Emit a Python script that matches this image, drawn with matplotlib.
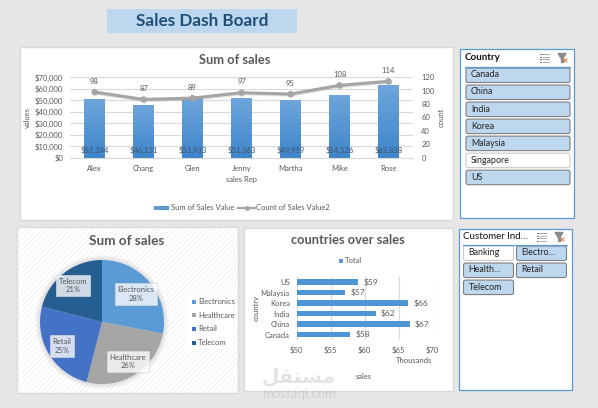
import numpy as np
import matplotlib
matplotlib.use("Agg")
import matplotlib.pyplot as plt
from matplotlib.patches import Rectangle, FancyBboxPatch, Circle
from matplotlib.ticker import FuncFormatter
import matplotlib.patheffects as pe

reps = ["Alex", "Chang", "Glen", "Jenny", "Martha", "Mike", "Rose"]
rep_sales = [51244, 46131, 51933, 51663, 49919, 54526, 62838]
rep_counts = [98, 87, 89, 97, 95, 108, 114]
industries = ["Electronics", "Healthcare", "Retail", "Telecom"]
industry_share = [28, 26, 25, 21]
industry_colors = ["#5B9BD5", "#A5A5A5", "#4472C4", "#255E91"]
countries = ["Canada", "China", "India", "Korea", "Malaysia", "US"]
country_sales = [57.8, 66.6, 61.6, 66.4, 57.1, 59.0]
country_labels = ["$58", "$67", "$62", "$66", "$57", "$59"]
slicer_countries = ["Canada", "China", "India", "Korea", "Malaysia", "Singapore", "US"]
country_selected = [True, True, True, True, True, False, True]
slicer_industries = ["Banking", "Electro…", "Health…", "Retail", "Telecom"]
industry_selected = [False, True, True, True, True]

W, H = 598, 408
plt.rcParams["font.family"] = ["Lato", "DejaVu Sans"]
TXT = "#595959"
fig = plt.figure(figsize=(W / 100, H / 100), dpi=100, facecolor="#E6E6E6")


def axpx(x0, y0, x1, y1, **kw):
    return fig.add_axes([x0 / W, 1 - y1 / H, (x1 - x0) / W, (y1 - y0) / H], **kw)


def layer(z):
    a = axpx(0, 0, W, H)
    a.set_xlim(0, W)
    a.set_ylim(H, 0)
    a.axis("off")
    a.patch.set_alpha(0)
    a.set_zorder(z)
    return a


bg = layer(0)
top = layer(5)


def rect(x0, y0, x1, y1, fc="white", ec="none", lw=1, **kw):
    bg.add_patch(Rectangle((x0, y0), x1 - x0, y1 - y0, fc=fc, ec=ec, lw=lw, **kw))


# title banner and panels
rect(107, 9, 297, 33, fc="#BDD7EE")
bg.text(202, 21.5, "Sales Dash Board", ha="center", va="center", fontsize=12.3,
        fontweight="bold", color="#1F4E79")
rect(20, 47, 453, 220, ec="#D9D9D9")
rect(17, 227, 238, 393, ec="#D9D9D9")
plt.rcParams["hatch.linewidth"] = 0.4
rect(17, 227, 238, 393, fc="none", ec="#EAEAEA", lw=0, hatch="//////")
rect(244, 228, 453, 391, ec="#D9D9D9")
rect(460, 49, 574, 218, ec="#5B9BD5", lw=0.9)
rect(458.5, 228.5, 571.5, 390, ec="#5B9BD5", lw=0.9)

# top combo chart
ax = axpx(70, 77.3, 413, 157.7)
ax.patch.set_alpha(0)
ax.set_zorder(1)
x = np.arange(len(reps))
ax.bar(x, rep_sales, width=0.41, color="#5B9BD5", zorder=2)
grad = np.linspace(0, 1, 64).reshape(-1, 1)
cmap = matplotlib.colors.LinearSegmentedColormap.from_list("b", ["#3E86CB", "#6EA5DB"])
for xi, v in zip(x, rep_sales):
    ax.imshow(grad, extent=(xi - 0.205, xi + 0.205, 0, v), origin="lower", cmap=cmap,
              aspect="auto", zorder=2.1)
ax.set_xlim(-0.5, 6.5)
ax.set_ylim(0, 70000)
ax.set_axisbelow(True)
ax.grid(axis="y", color="#D9D9D9", lw=0.8)
ax.set_yticks(np.arange(0, 70001, 10000))
ax.yaxis.set_major_formatter(FuncFormatter(lambda v, p: f"${v:,.0f}"))
ax.set_xticks(x, reps)
ax.tick_params(length=0, labelsize=5.5, labelcolor=TXT, pad=5)
ax.tick_params(axis="x", pad=5)
for s in ax.spines.values():
    s.set_visible(False)
ax.spines["bottom"].set_visible(True)
ax.spines["bottom"].set_color("#D9D9D9")
ax.set_xlabel("sales Rep", fontsize=5.5, color=TXT, labelpad=3)
ax.set_ylabel("values", fontsize=5.5, color=TXT, labelpad=3)
for xi, v in zip(x, rep_sales):
    ax.text(xi, 6500, f"${v:,}", ha="center", va="center", fontsize=5.5, color="#44546A", zorder=6)
ax2 = ax.twinx()
ax2.patch.set_alpha(0)
ax2.set_zorder(2)
ax2.set_ylim(0, 120)
ax2.set_yticks(np.arange(0, 121, 20))
ax2.plot(x, rep_counts, color="#A5A5A5", lw=2.2, marker="o", ms=3.5, zorder=5,
         path_effects=[pe.SimpleLineShadow(offset=(0.5, -0.8), shadow_color="#999999", alpha=0.3),
                       pe.Normal()])
ax2.tick_params(length=0, labelsize=5.5, labelcolor=TXT, pad=6)
for s in ax2.spines.values():
    s.set_visible(False)
ax2.set_ylabel("count", fontsize=5.5, color=TXT, labelpad=2)
for xi, v in zip(x, rep_counts):
    ax2.annotate(str(v), (xi, v), xytext=(0, 6), textcoords="offset points", ha="center",
                 fontsize=5.5, color=TXT)
bg.text(235, 60, "Sum of sales", ha="center", va="center", fontsize=9.3,
        fontweight="bold", color=TXT)
rect(154, 205.5, 169, 210, fc="#5B9BD5")
bg.text(171, 207.8, "Sum of Sales Value", fontsize=5.5, color=TXT, va="center")
bg.plot([238, 255], [207.8, 207.8], color="#A5A5A5", lw=1.6)
bg.plot([246.5], [207.8], color="#A5A5A5", marker="o", ms=2.5)
bg.text(256, 207.8, "Count of Sales Value2", fontsize=5.5, color=TXT, va="center")

# pie chart
for r, a in zip((67, 65.5, 64), (0.05, 0.07, 0.09)):
    bg.add_patch(Circle((102, 322), r, fc="#808080", ec="none", alpha=a))
ax3 = axpx(102 - 66, 322 - 66, 102 + 66, 322 + 66)
ax3.patch.set_alpha(0)
ax3.set_zorder(1)
ax3.pie(industry_share, colors=industry_colors, startangle=90, counterclock=False, radius=62,
        center=(0, 0), frame=False, wedgeprops=dict(edgecolor="none"))
ax3.set_xlim(-66, 66)
ax3.set_ylim(-66, 66)
ax3.axis("off")
pie_lab = [(136, 294), (128, 361.5), (62, 346), (73.3, 285.5)]
for (lx, ly), n, p in zip(pie_lab, industries, industry_share):
    top.text(lx, ly, f"{n}\n{p}%", ha="center", va="center", fontsize=5.5, color=TXT,
             linespacing=1.3,
             bbox=dict(boxstyle="square,pad=0.35", fc="white", ec="#D9D9D9", lw=0.6, alpha=0.78))
bg.text(127, 241, "Sum of sales", ha="center", va="center", fontsize=9.8,
        fontweight="bold", color=TXT)
rect(187, 295, 233, 349, fc="white")
for i, (n, c) in enumerate(zip(industries, industry_colors)):
    yy = 301.5 + i * 13.7
    rect(192, yy - 2, 196, yy + 2, fc=c)
    bg.text(198, yy, n, fontsize=5.5, color=TXT, va="center")

# horizontal bars
ax4 = axpx(296.7, 276.7, 432.7, 340)
ax4.patch.set_alpha(0)
ax4.set_zorder(1)
yy = np.arange(len(countries))
ax4.barh(yy, country_sales, height=0.52, color="#4F95D6", zorder=3,
         path_effects=[pe.SimpleLineShadow(offset=(0.6, -0.8), shadow_color="#808080", alpha=0.45),
                       pe.Normal()])
ax4.set_xlim(50, 70)
ax4.set_ylim(-0.5, 5.5)
ax4.set_xticks([50, 55, 60, 65, 70], ["$50", "$55", "$60", "$65", "$70"])
ax4.set_yticks(yy, countries)
ax4.grid(axis="x", color="#D9D9D9", lw=0.8)
ax4.set_axisbelow(True)
ax4.tick_params(length=0, labelsize=5.5, labelcolor=TXT)
ax4.tick_params(axis="y", pad=5)
ax4.tick_params(axis="x", pad=4.5)
for s in ax4.spines.values():
    s.set_visible(False)
for yi, v, l in zip(yy, country_sales, country_labels):
    ax4.annotate(l, (v, yi), xytext=(4, 0), textcoords="offset points", va="center",
                 fontsize=6, color=TXT)
ax4.set_ylabel("country", fontsize=5.5, color=TXT, labelpad=1)
bg.text(348, 240, "countries over sales", ha="center", va="center", fontsize=9.3,
        fontweight="bold", color=TXT)
rect(339, 259, 343, 263, fc="#5B9BD5")
bg.text(345, 260.5, "Total", fontsize=5.5, color=TXT, va="center")
bg.text(414, 360.5, "Thousands", ha="center", va="center", fontsize=5.5, color=TXT)
bg.text(364, 376.5, "sales", ha="center", va="center", fontsize=5.5, color=TXT)
# watermark
top.text(299, 377, "\ufede\ufed8\ufe98\ufeb4\ufee3", ha="center", va="center",
         fontsize=14.5, color="#808080", alpha=0.22, family="DejaVu Sans", fontweight="bold")
top.text(299, 393.5, "mostaqi.com", ha="center", va="center", fontsize=9.5, color="#808080", alpha=0.22)


# slicers
def button(x0, y0, x1, y1, label, on):
    fc = "#BDD7EE" if on else "white"
    ec = "#7F7F7F" if on else "#C8C8C8"
    bg.add_patch(FancyBboxPatch((x0 + 2, y0 + 2), x1 - x0 - 4, y1 - y0 - 4,
                                boxstyle="round,pad=2", fc=fc, ec=ec, lw=0.8))
    bg.text(x0 + 5, (y0 + y1) / 2 - 0.3, label, fontsize=6.4, color="#222222", va="center")


def funnel_icons(ix, iy):
    for k in range(4):
        bg.plot([ix + 2 + k % 2, ix + 9], [iy + k * 2.6, iy + k * 2.6], color="#A8A8A8", lw=0.7)
        bg.plot([ix, ix + 1.2], [iy + k * 2.6, iy + k * 2.6], color="#777777", lw=0.7)
    fx = ix + 18
    bg.fill([fx, fx + 8, fx + 5, fx + 3], [iy - 0.5, iy - 0.5, iy + 4, iy + 4], color="#8C8C8C")
    bg.fill([fx + 3, fx + 5, fx + 5, fx + 3], [iy + 4, iy + 4, iy + 8, iy + 8], color="#8C8C8C")
    bg.plot([fx + 6, fx + 9], [iy + 5, iy + 8], color="#E07B39", lw=0.7)
    bg.plot([fx + 9, fx + 6], [iy + 5, iy + 8], color="#E07B39", lw=0.7)


bg.text(465, 58, "Country", fontsize=7, color="#111111", va="center", fontweight="bold")
bg.plot([465, 570], [66.5, 66.5], color="#5B9BD5", lw=0.9)
funnel_icons(540, 54)
for i, (n, on) in enumerate(zip(slicer_countries, country_selected)):
    y0 = 68 + i * 17.03
    button(466, y0, 570, y0 + 14.5, n, on)

bg.text(463, 236.5, "Customer Ind…", fontsize=7, color="#111111", va="center")
bg.plot([463, 567], [244.5, 244.5], color="#5B9BD5", lw=0.9)
funnel_icons(537, 233)
for i, (n, on) in enumerate(zip(slicer_industries, industry_selected)):
    col, row = i % 2, i // 2
    x0 = 463.5 + col * 53
    y0 = 246 + row * 17.03
    button(x0, y0, x0 + 50, y0 + 14.5, n, on)

fig.savefig("out.png", dpi=100, facecolor=fig.get_facecolor())
